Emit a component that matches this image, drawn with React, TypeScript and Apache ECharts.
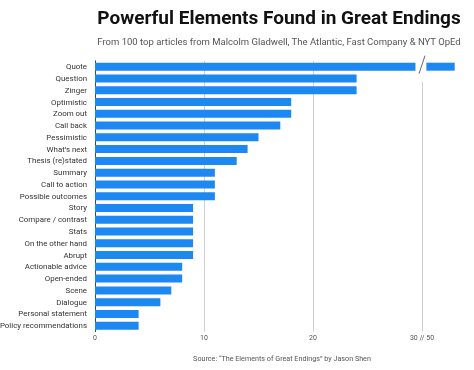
import React, { useEffect, useRef } from "react";
import * as echarts from "echarts";

const categories = [
  "Quote", "Question", "Zinger", "Optimistic", "Zoom out", "Call back", "Pessimistic",
  "What’s next", "Thesis (re)stated", "Summary", "Call to action", "Possible outcomes",
  "Story", "Compare / contrast", "Stats", "On the other hand", "Abrupt",
  "Actionable advice", "Open-ended", "Scene", "Dialogue", "Personal statement",
  "Policy recommendations",
];
const values = [53, 24, 24, 18, 18, 17, 15, 14, 13, 11, 11, 11, 9, 9, 9, 9, 9, 8, 8, 7, 6, 4, 4];
const tickValues = [0, 10, 20, 30];
const tickLabels = ["0", "10", "20", "30 // 50"];
const breakFrom = 30;
const breakTo = 50;

const title = "Powerful Elements Found in Great Endings";
const subtitle = "From 100 top articles from Malcolm Gladwell, The Atlantic, Fast Company & NYT OpEd";
const source = "Source: “The Elements of Great Endings” by Jason Shen";

const FONT = "Roboto";
const BLUE = "#1E88F2";

export default function App() {
  const ref = useRef<HTMLDivElement>(null);
  useEffect(() => {
    if (!ref.current) return;
    const chart = echarts.init(ref.current, undefined, { renderer: "svg" });
    const preEnd = breakFrom - 0.6;
    const postStart = breakFrom + 0.4;
    const mainData = values.map((v) => (v > breakTo ? preEnd : v));
    const spacerData = values.map((v) => (v > breakTo ? postStart - preEnd : "-"));
    const tailData = values.map((v) => (v > breakTo ? breakFrom + (v - breakTo) - postStart : "-"));
    const unit = 10.9;
    const left = 95;
    const maxV = 40;
    const right = 474 - (left + maxV * unit);
    chart.setOption({
      animation: false,
      textStyle: { fontFamily: FONT },
      grid: { left, right, top: 60.8, bottom: 38.4, containLabel: false, outerBoundsMode: "none" },
      xAxis: {
        type: "value",
        min: 0,
        max: maxV,
        interval: 10,
        axisLine: { show: false },
        axisTick: { show: false },
        splitLine: { show: true, lineStyle: { color: "#cfcfcf", width: 1 } },
        axisLabel: {
          fontSize: 7,
          color: "#555",
          margin: 3,
          formatter: (v: number) => {
            const i = tickValues.indexOf(v);
            return i >= 0 ? tickLabels[i] : "";
          },
        },
      },
      yAxis: {
        type: "category",
        data: categories,
        inverse: true,
        axisLine: { show: true, lineStyle: { color: "#444", width: 1 } },
        axisTick: { show: false },
        axisLabel: { fontSize: 7.9, color: "#333", margin: 8 },
      },
      series: [
        { type: "bar", stack: "s", data: mainData, barWidth: 8, itemStyle: { color: BLUE } },
        { type: "bar", stack: "s", data: spacerData, barWidth: 8, itemStyle: { color: "rgba(0,0,0,0)" } },
        { type: "bar", stack: "s", data: tailData, barWidth: 8, itemStyle: { color: BLUE } },
      ],
    });
    const breakIdx = values.findIndex((v) => v > breakTo);
    const p = chart.convertToPixel({ xAxisIndex: 0, yAxisIndex: 0 }, [breakFrom, categories[breakIdx]]) as number[];
    chart.setOption({
      graphic: [
        { type: "text", x: 279, y: 17, style: { text: title, fontFamily: FONT, fontSize: 19, fontWeight: "bold", fill: "#111", align: "center", verticalAlign: "middle" } },
        { type: "text", x: 279, y: 41, style: { text: subtitle, fontFamily: FONT, fontSize: 9.5, fill: "#555", align: "center", verticalAlign: "middle" } },
        { type: "text", x: 282, y: 358, style: { text: source, fontFamily: FONT, fontSize: 7.2, fill: "#555", align: "center", verticalAlign: "middle" } },
        { type: "rect", z: 1, shape: { x: p[0] - 2, y: 58, width: 4, height: p[1] + 15 - 58 }, style: { fill: "#fff" } },
        { type: "line", z: 10, shape: { x1: p[0] - 3, y1: p[1] + 7, x2: p[0] + 3, y2: p[1] - 11 }, style: { stroke: "#666", lineWidth: 1 } },
      ],
    });
    return () => chart.dispose();
  }, []);
  return <div ref={ref} style={{ position: "fixed", left: 0, top: 0, width: 474, height: 370 }} />;
}
